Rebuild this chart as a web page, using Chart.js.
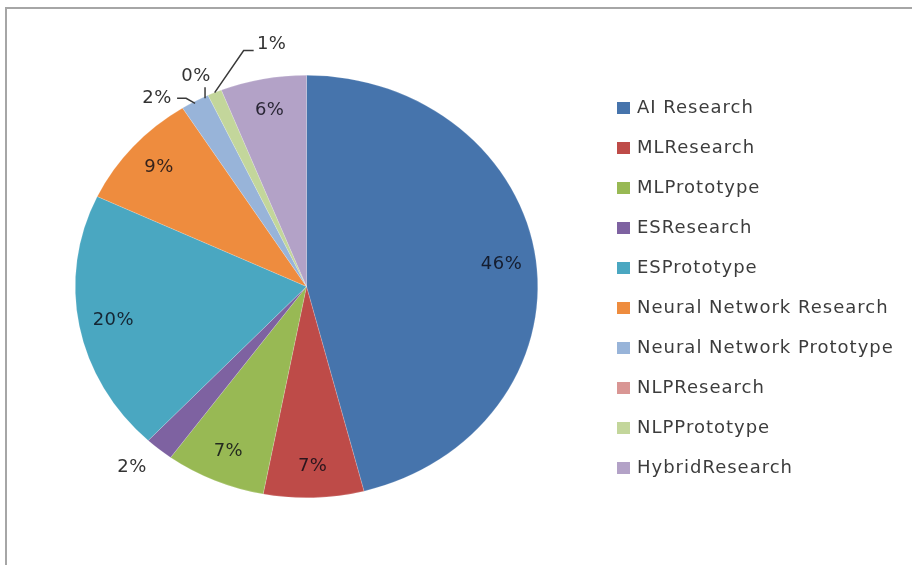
<!DOCTYPE html>
<html>
<head>
<meta charset="utf-8">
<script src="https://cdn.jsdelivr.net/npm/chart.js@4.4.1/dist/chart.umd.min.js"></script>
<style>
html, body { margin: 0; padding: 0; background: #fff; }
#wrap { position: relative; width: 912px; height: 565px; overflow: hidden; }
#frame { position: absolute; left: 5px; top: 7px; width: 1200px; height: 1200px; border-left: 2px solid #a6a6a6; border-top: 2px solid #a6a6a6; }
canvas { position: absolute; left: 0; top: 0; }
</style>
</head>
<body>
<div id="wrap"><div id="frame"></div><canvas id="myChart" width="912" height="565"></canvas></div>
<script>
var categories = ["AI Research", "MLResearch", "MLPrototype", "ESResearch", "ESPrototype",
    "Neural Network Research", "Neural Network Prototype", "NLPResearch", "NLPPrototype", "HybridResearch"];
var shares = [46, 7, 7, 2, 20, 9, 2, 0, 1, 6];
var sliceColors = ["#4674ac", "#be4b48", "#98b954", "#7e62a1", "#4aa7c1",
    "#ee8c3e", "#98b4d9", "#d99694", "#c3d69b", "#b3a2c7"];

// pie in the picture is a bit squashed vertically
var squashY = 211.5 / 231.5;
var fontName = "'DejaVu Sans', Verdana, sans-serif";

// small slices get their label outside (offset from the edge of the slice)
var callouts = {
    3: {dx: -27, dy: 18, line: false},
    6: {dx: -38, dy: -3, line: true},
    7: {dx: -12, dy: -19, line: true},
    8: {dx: 57, dy: -48, line: true}
};

function slicePoint(arc, f) {
    var mid = (arc.startAngle + arc.endAngle) / 2;
    return {
        x: arc.x + Math.cos(mid) * arc.outerRadius * f,
        y: arc.y + Math.sin(mid) * arc.outerRadius * f * squashY
    };
}

var ellipsePlugin = {
    id: "ellipse",
    beforeDatasetsDraw: function(chart) {
        var arc = chart.getDatasetMeta(0).data[0];
        var ctx = chart.ctx;
        ctx.save();
        ctx.translate(arc.x, arc.y);
        ctx.scale(1, squashY);
        ctx.translate(-arc.x, -arc.y);
    },
    afterDatasetsDraw: function(chart) {
        chart.ctx.restore();
    }
};

var labelPlugin = {
    id: "sliceLabels",
    afterDraw: function(chart) {
        var ctx = chart.ctx;
        var arcs = chart.getDatasetMeta(0).data;
        ctx.save();
        ctx.font = "18px " + fontName;
        ctx.letterSpacing = "0.5px";
        ctx.textAlign = "center";
        ctx.textBaseline = "middle";
        for (var i = 0; i < arcs.length; i++) {
            var text = shares[i] + "%";
            var c = callouts[i];
            if (!c) {
                var p = slicePoint(arcs[i], 0.85);
                ctx.fillStyle = "rgba(10,10,20,0.82)";
                ctx.fillText(text, p.x, p.y);
                continue;
            }
            var e = slicePoint(arcs[i], 1.0);
            var lx = e.x + c.dx, ly = e.y + c.dy;
            ctx.fillStyle = "#333";
            ctx.fillText(text, lx, ly);
            if (c.line) {
                ctx.strokeStyle = "#3a3a3a";
                ctx.lineWidth = 1.5;
                ctx.beginPath();
                if (c.dx > 30) {
                    ctx.moveTo(e.x, e.y);
                    ctx.lineTo(lx - 28, ly + 6);
                    ctx.lineTo(lx - 18, ly + 6);
                } else if (c.dy < -10) {
                    ctx.moveTo(lx + 9, ly + 11);
                    ctx.lineTo(lx + 9, e.y + 3);
                } else {
                    ctx.moveTo(lx + 20, ly);
                    ctx.lineTo(lx + 29, ly);
                    ctx.lineTo(e.x, e.y + 2);
                }
                ctx.stroke();
            }
        }
        ctx.restore();

        // legend on the right
        ctx.save();
        ctx.font = "18px " + fontName;
        ctx.letterSpacing = "1px";
        ctx.textAlign = "left";
        ctx.textBaseline = "middle";
        for (var j = 0; j < categories.length; j++) {
            var y = 108 + 40 * j;
            ctx.fillStyle = sliceColors[j];
            ctx.fillRect(617, y - 6, 13, 12);
            ctx.fillStyle = "#3c3c3c";
            ctx.fillText(categories[j], 637, y);
        }
        ctx.restore();
    }
};

new Chart(document.getElementById("myChart"), {
    type: "pie",
    data: {
        labels: categories,
        datasets: [{
            data: shares,
            backgroundColor: sliceColors,
            borderColor: "rgba(255,255,255,0.35)",
            borderWidth: 0.5,
            hoverOffset: 0
        }]
    },
    options: {
        responsive: false,
        animation: false,
        layout: {padding: {left: 75, right: 374, top: 55, bottom: 47}},
        plugins: {
            legend: {display: false},
            tooltip: {enabled: false}
        }
    },
    plugins: [ellipsePlugin, labelPlugin]
});
</script>
</body>
</html>
